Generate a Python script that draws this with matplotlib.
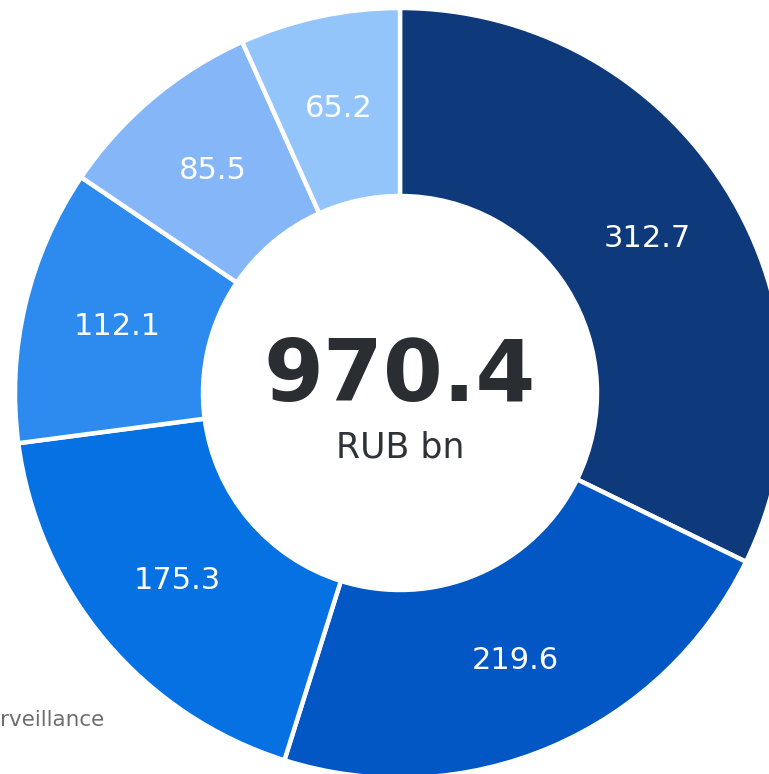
import matplotlib
matplotlib.use("Agg")
import matplotlib.pyplot as plt

# segment values, clockwise from 12 o'clock (RUB bn)
values = [312.7, 219.6, 175.3, 112.1, 85.5, 65.2]
colors = ["#0e3a7c", "#0357c4", "#0571e3", "#2d8bf0", "#85b6f8", "#93c5fa"]
total_label = "970.4"
unit_label = "RUB bn"
source_tail = "rveillance"

W, H = 769, 774
CX, CY = 400, 393
R_OUT, R_IN = 385, 197


def main():
    fig = plt.figure(figsize=(W / 100, H / 100), dpi=100)
    ax = fig.add_axes([0, 0, 1, 1])

    # axes run in pixel space with y pointing down, so -90 is the top
    # and counterclock=True reads clockwise on screen
    wedges, texts = ax.pie(
        values,
        colors=colors,
        startangle=-90,
        counterclock=True,
        center=(CX, CY),
        radius=R_OUT,
        labels=[f"{v:.1f}" for v in values],
        labeldistance=(R_OUT + R_IN) / 2 / R_OUT,
        wedgeprops=dict(width=R_OUT - R_IN, edgecolor="white", linewidth=3.2),
        textprops=dict(color="white", fontsize=22),
    )
    for t in texts:
        t.set_horizontalalignment("center")
        t.set_verticalalignment("center")

    ax.set_xlim(0, W)
    ax.set_ylim(H, 0)
    ax.set_aspect("equal")
    ax.axis("off")

    ax.text(CX, CY - 15, total_label, ha="center", va="center",
            fontsize=62, fontweight="bold", color="#2a2e33")
    ax.text(CX, CY + 54, unit_label, ha="center", va="center",
            fontsize=25, color="#2f3337")
    ax.text(0, 720, source_tail, ha="left", va="center",
            fontsize=15.5, color="#6e6e6e")

    fig.savefig("out.png", dpi=100)
    plt.close(fig)


if __name__ == "__main__":
    main()
